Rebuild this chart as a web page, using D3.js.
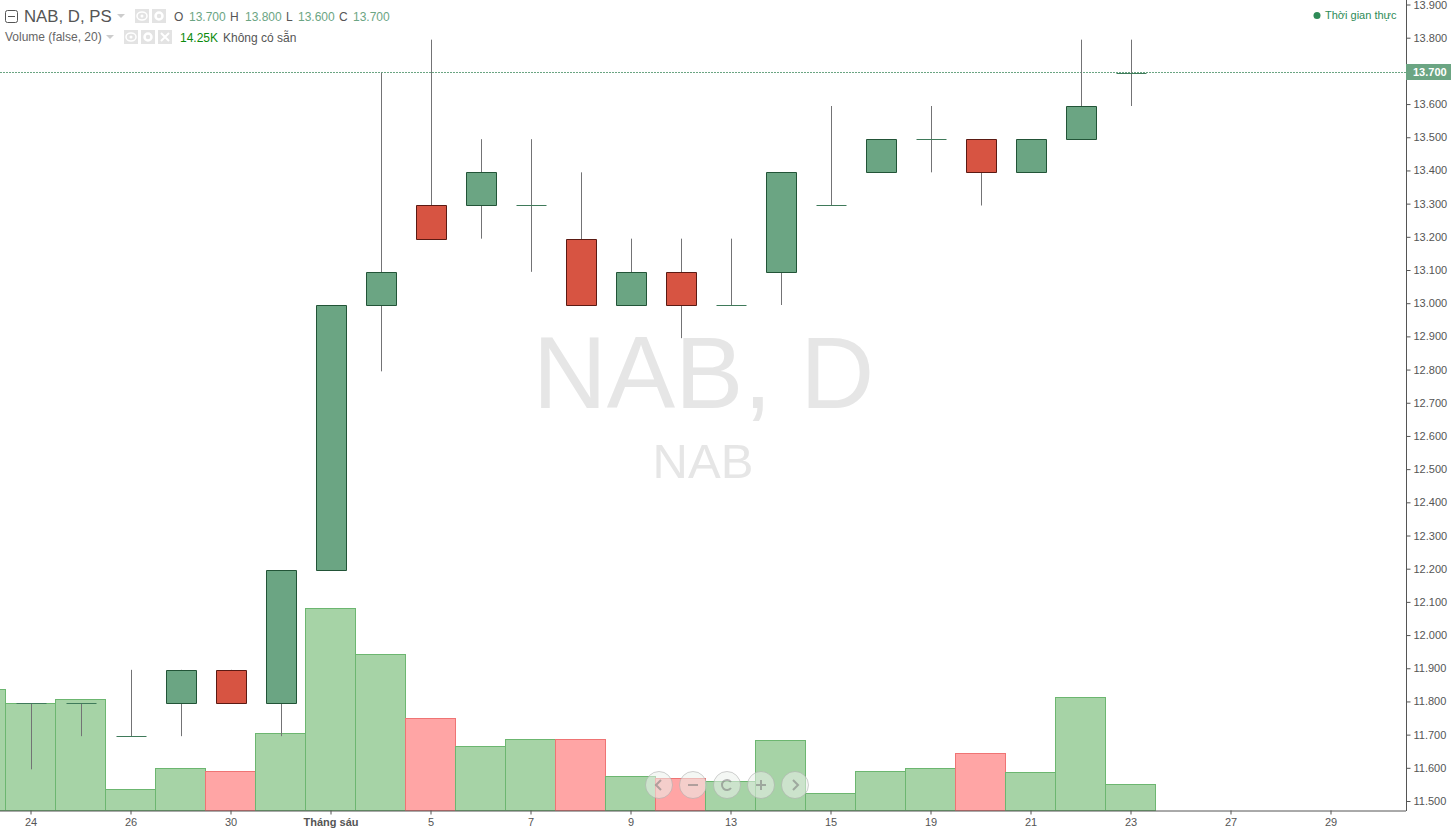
<!DOCTYPE html>
<html><head><meta charset="utf-8">
<script src="https://cdn.jsdelivr.net/npm/d3@7"></script>
<style>
html,body{margin:0;padding:0;background:#fff;overflow:hidden}
svg{display:block;font-family:"Liberation Sans",Arial,sans-serif}
</style></head><body><svg id="c" width="1456" height="831"></svg>
<script>
const slots=["23","24","25","26","28","30","31","Tháng sáu","4","5","6","7","8","9","12","13","14","15","18","19","20","21","22","23b","26b","27","28b","29","30b"];
const tickSlots=["24","26","30","Tháng sáu","5","7","9","13","15","19","21","23b","27","29"];
const tickNames=["24","26","30","Tháng sáu","5","7","9","13","15","19","21","23","27","29"];
const priceTicks=["13.900","13.800","13.700","13.600","13.500","13.400","13.300","13.200","13.100","13.000","12.900","12.800","12.700","12.600","12.500","12.400","12.300","12.200","12.100","12.000","11.900","11.800","11.700","11.600","11.500"];
const candleSlots=["24","25","26","28","30","31","Tháng sáu","4","5","6","7","8","9","12","13","14","15","18","19","20","21","22","23b"];
const opens =[11.8,11.8,11.7,11.8,11.9,11.8,12.2,13.0,13.3,13.3,13.3,13.2,13.0,13.1,13.0,13.1,13.3,13.4,13.5,13.5,13.4,13.5,13.7];
const highs =[11.8,11.8,11.9,11.9,11.9,12.2,13.0,13.7,13.8,13.5,13.5,13.4,13.2,13.2,13.2,13.4,13.6,13.5,13.6,13.5,13.5,13.8,13.8];
const lows  =[11.6,11.7,11.7,11.7,11.8,11.7,12.2,12.8,13.2,13.2,13.1,13.0,13.0,12.9,13.0,13.0,13.3,13.4,13.4,13.3,13.4,13.5,13.6];
const closes=[11.8,11.8,11.7,11.9,11.8,12.2,13.0,13.1,13.2,13.4,13.3,13.0,13.1,13.0,13.0,13.4,13.3,13.5,13.5,13.4,13.5,13.6,13.7];
const volumeSlots=["23","24","25","26","28","30","31","Tháng sáu","4","5","6","7","8","9","12","13","14","15","18","19","20","21","22","23b"];
const volumes=[64.4,57.0,59.1,11.1,22.7,20.6,40.7,106.7,82.4,48.6,34.3,37.5,38.0,18.0,17.4,15.8,37.0,9.5,21.1,22.7,30.6,20.1,59.7,14.25];
const volumeDown=[0,0,0,0,0,1,0,0,0,1,0,0,1,0,1,0,0,0,0,0,1,0,0,0];

const svg=d3.select("#c");
const W=1406,AX=811;
const x=d3.scaleBand().domain(slots).range([-44,-44+50*slots.length]);
const y=d3.scaleLinear().domain([11.5,13.9]).range([802.5,6.5]);
const yTick=d3.scaleLinear().domain([11.5,13.9]).range([801,4.5]);
const yV=d3.scaleLinear().domain([0,100]).range([810.5,621.1]);
const G="#6ba583",R="#d75442";
const plot=svg.append("g");

// watermark
plot.append("text").attr("x",703.5).attr("y",408).attr("text-anchor","middle").attr("font-size",102.5).attr("fill","#e6e6e6").text("NAB, D");
plot.append("text").attr("x",703).attr("y",478).attr("text-anchor","middle").attr("font-size",49).attr("fill","#e6e6e6").text("NAB");

// volume
plot.selectAll(".v").data(volumes).join("rect").attr("class","v")
 .attr("x",(d,i)=>x(volumeSlots[i])-.5).attr("width",x.bandwidth())
 .attr("y",d=>Math.round(yV(d))+.5).attr("height",d=>yV(0)-Math.round(yV(d))-.5)
 .attr("fill",(d,i)=>volumeDown[i]?"#ffa5a5":"#a6d3a6")
 .attr("stroke",(d,i)=>volumeDown[i]?"#ef7474":"#6cb670");

// current price line
plot.append("line").attr("x1",0).attr("x2",W).attr("y1",72.5).attr("y2",72.5).attr("stroke",G).attr("stroke-dasharray","2,1");

// candles
const cx=i=>x(candleSlots[i])+25;
const cg=plot.selectAll(".cd").data(opens).join("g").attr("class","cd");
cg.append("line").attr("x1",(d,i)=>Math.round(cx(i))+.5).attr("x2",(d,i)=>Math.round(cx(i))+.5)
 .attr("y1",(d,i)=>y(highs[i])).attr("y2",(d,i)=>y(lows[i])).attr("stroke","#737375");
cg.append("path").attr("d",(d,i)=>{
   const t=Math.round(y(Math.max(opens[i],closes[i])))+.5,b=Math.round(y(Math.min(opens[i],closes[i])))+.5,l=cx(i)-15+.5,r=l+30;
   return t===b?`M${l},${t}H${r}`:`M${l},${t}H${r}V${b}H${l}Z`;
 })
 .attr("fill",(d,i)=>closes[i]<opens[i]?R:G)
 .attr("stroke",(d,i)=>closes[i]<opens[i]?"#5b1a13":(opens[i]===closes[i]?"#3f7a5a":"#225437"));

// axes
const xa=d3.axisBottom(x).tickValues(tickSlots).tickSize(4).tickPadding(4).tickFormat((d,i)=>tickNames[i]);
const xg=svg.append("g").attr("transform",`translate(0,${AX-.5})`).call(xa);
xg.select(".domain").attr("d",`M0,0.5H${W}`).attr("stroke","#555");
xg.selectAll(".tick line").attr("stroke","#555");
xg.selectAll(".tick text").attr("fill","#555").attr("font-size",11).attr("font-family","Liberation Sans")
  .attr("font-weight",d=>d==="Tháng sáu"?"bold":"normal");
const ya=d3.axisRight(yTick).tickValues(priceTicks.map(Number)).tickSize(4).tickPadding(3).tickFormat(d3.format(".3f"));
const yg=svg.append("g").attr("transform",`translate(${W+.5},0)`).call(ya);
yg.select(".domain").attr("d","M0,0V811").attr("stroke","#555");
yg.selectAll(".tick line").attr("stroke","#555");
yg.selectAll(".tick text").attr("fill","#555").attr("font-size",11).attr("font-family","Liberation Sans");
// price tag
svg.append("rect").attr("x",1406).attr("y",64).attr("width",45).attr("height",16).attr("fill",G);
svg.append("text").attr("x",1413).attr("y",76).attr("fill","#fff").attr("font-size",11).attr("font-weight","bold").text("13.700");

// nav buttons
const nav=svg.append("g");
const navStroke="rgba(120,120,120,.55)";
[0,1,2,3,4].forEach(i=>{
  const c=659+34*i,m=785;
  nav.append("circle").attr("cx",c).attr("cy",m).attr("r",13.5).attr("fill","rgba(235,240,235,.55)").attr("stroke","rgba(170,170,170,.55)");
  const d=["M"+(c+2)+","+(m-5)+"l-5,5l5,5","M"+(c-5)+","+m+"h10",
           "M"+(c+4)+","+(m-3)+"A5,5 0 1 0 "+(c+4)+","+(m+3),
           "M"+(c-5)+","+m+"h10M"+c+","+(m-5)+"v10","M"+(c-2)+","+(m-5)+"l5,5l-5,5"][i];
  nav.append("path").attr("d",d).attr("fill","none").attr("stroke",navStroke).attr("stroke-width",2);
});

// legend
const T=(x0,y0,s,size,fill)=>svg.append("text").attr("x",x0).attr("y",y0).attr("font-size",size).attr("fill",fill).text(s);
svg.append("rect").attr("x",5.5).attr("y",10.5).attr("width",12).attr("height",12).attr("rx",2).attr("fill","none").attr("stroke","#555");
svg.append("line").attr("x1",8).attr("x2",15).attr("y1",16.5).attr("y2",16.5).attr("stroke","#555");
T(24,22,"NAB, D, PS",16.8,"#555");
svg.append("path").attr("d","M117,14h8l-4,4z").attr("fill","#ccc");
T(174,21,"O",12,"#555");T(189,21,"13.700",12,G);
T(230,21,"H",12,"#555");T(245,21,"13.800",12,G);
T(286,21,"L",12,"#555");T(298,21,"13.600",12,G);
T(339,21,"C",12,"#555");T(353,21,"13.700",12,G);
T(5,41,"Volume (false, 20)",12,"#666");
svg.append("path").attr("d","M106,35h8l-4,4z").attr("fill","#ccc");
T(180,42,"14.25K",12,"#0b8a0b");T(223,42,"Không có sẵn",12,"#555");
function icon(ix,iy,kind){
  svg.append("rect").attr("x",ix).attr("y",iy).attr("width",14).attr("height",14).attr("fill","#e3e3e3");
  const c=ix+7,m=iy+7;
  if(kind==="x"){svg.append("path").attr("d",`M${c-4},${m-4}L${c+4},${m+4}M${c+4},${m-4}L${c-4},${m+4}`).attr("stroke","#fff").attr("stroke-width",2);}
  else if(kind==="eye"){svg.append("ellipse").attr("cx",c).attr("cy",m).attr("rx",5).attr("ry",4).attr("fill","none").attr("stroke","#fff").attr("stroke-width",1.5);svg.append("circle").attr("cx",c).attr("cy",m).attr("r",1.5).attr("fill","#fff");}
  else {svg.append("circle").attr("cx",c).attr("cy",m).attr("r",3.5).attr("fill","none").attr("stroke","#fff").attr("stroke-width",2.5);}
}
icon(135,9,"eye");icon(152,9,"gear");
icon(124,30,"eye");icon(141,30,"gear");icon(158,30,"x");

svg.append("circle").attr("cx",1317).attr("cy",15.5).attr("r",3.5).attr("fill","#2e8b57");
T(1325,19,"Thời gian thực",11,"#2e8b57");
</script></body></html>
